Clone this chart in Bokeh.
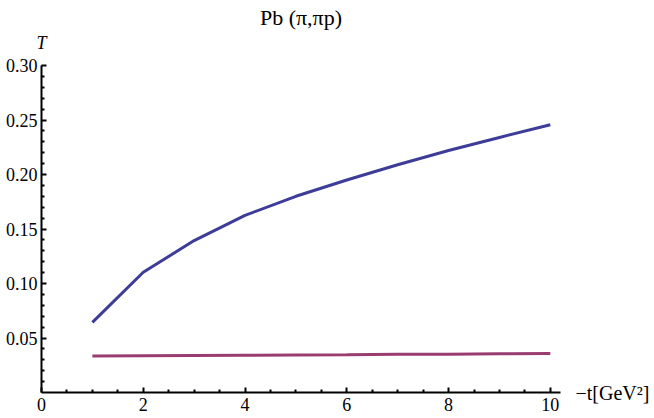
from bokeh.plotting import figure
from bokeh.models import Range1d, FixedTicker, LinearAxis, Title, NumeralTickFormatter
from bokeh.embed import file_html
from bokeh.resources import INLINE

# data
t_vals = [1, 2, 3, 4, 5, 6, 7, 8, 9, 10]
series_blue = [0.0643, 0.1103, 0.1394, 0.1625, 0.1800, 0.1950, 0.2090, 0.2220, 0.2340, 0.2457]
series_magenta = [0.0334, 0.0337, 0.0340, 0.0342, 0.0345, 0.0347, 0.0350, 0.0352, 0.0355, 0.0358]
x_major = [0, 2, 4, 6, 8, 10]
x_minor = [0.5, 1, 1.5, 2.5, 3, 3.5, 4.5, 5, 5.5, 6.5, 7, 7.5, 8.5, 9, 9.5]
y_major = [0.05, 0.10, 0.15, 0.20, 0.25, 0.30]
y_minor = [0.01, 0.02, 0.03, 0.04, 0.06, 0.07, 0.08, 0.09, 0.11, 0.12, 0.13, 0.14,
           0.16, 0.17, 0.18, 0.19, 0.21, 0.22, 0.23, 0.24, 0.26, 0.27, 0.28, 0.29]
title_text = "Pb (\u03c0,\u03c0p)"
x_label = "\u2212t[GeV\u00b2]"
y_label = "T"

FONT = "Liberation Serif"

p = figure(title=None, output_backend="svg", toolbar_location=None,
           x_range=Range1d(0, 10.2), y_range=Range1d(0, 0.30),
           frame_width=519, frame_height=327,
           min_border_left=41, min_border_top=65, min_border_right=94, min_border_bottom=26)
p.outline_line_color = None
p.grid.visible = False
p.background_fill_color = "white"
p.border_fill_color = "white"

p.line(t_vals, series_blue, line_color="#3D3D99", line_width=3)
p.line(t_vals, series_magenta, line_color="#993D71", line_width=3)

xa = p.xaxis[0]
xa.ticker = FixedTicker(ticks=x_major, minor_ticks=x_minor)
ya = p.yaxis[0]
ya.ticker = FixedTicker(ticks=y_major, minor_ticks=y_minor)
ya.formatter = NumeralTickFormatter(format="0.00")

for ax in (xa, ya):
    ax.axis_line_width = 2
    ax.axis_line_color = "black"
    ax.major_tick_in = 5
    ax.major_tick_out = 0
    ax.minor_tick_in = 3
    ax.minor_tick_out = 0
    ax.major_tick_line_width = 2
    ax.minor_tick_line_width = 2
    ax.major_tick_line_color = "black"
    ax.minor_tick_line_color = "black"
    ax.major_label_text_font = FONT
    ax.major_label_text_font_size = "18px"
    ax.major_label_text_color = "black"
xa.major_label_standoff = 5
ya.major_label_standoff = 4

def label_axis(tick, text, standoff, style="normal", size="18px"):
    return LinearAxis(ticker=FixedTicker(ticks=[tick], minor_ticks=[]),
                      major_label_overrides={tick: text},
                      axis_line_color=None, major_tick_line_color=None,
                      minor_tick_line_color=None, major_tick_in=0, major_tick_out=0,
                      major_label_standoff=standoff, major_label_text_font=FONT,
                      major_label_text_font_size=size, major_label_text_font_style=style,
                      major_label_text_color="black")

# y-axis caption "T" above the axis top
p.add_layout(label_axis(0, y_label, 13, style="italic", size="18px"), "above")
# x-axis caption to the right of the x axis
p.add_layout(label_axis(0, x_label, 15, size="20px"), "right")
# title
p.add_layout(Title(text=title_text, align="center", text_font=FONT, text_font_size="22px",
                   text_font_style="normal", text_color="black", standoff=0), "above")

open("out.html", "w").write(file_html(p, INLINE))
